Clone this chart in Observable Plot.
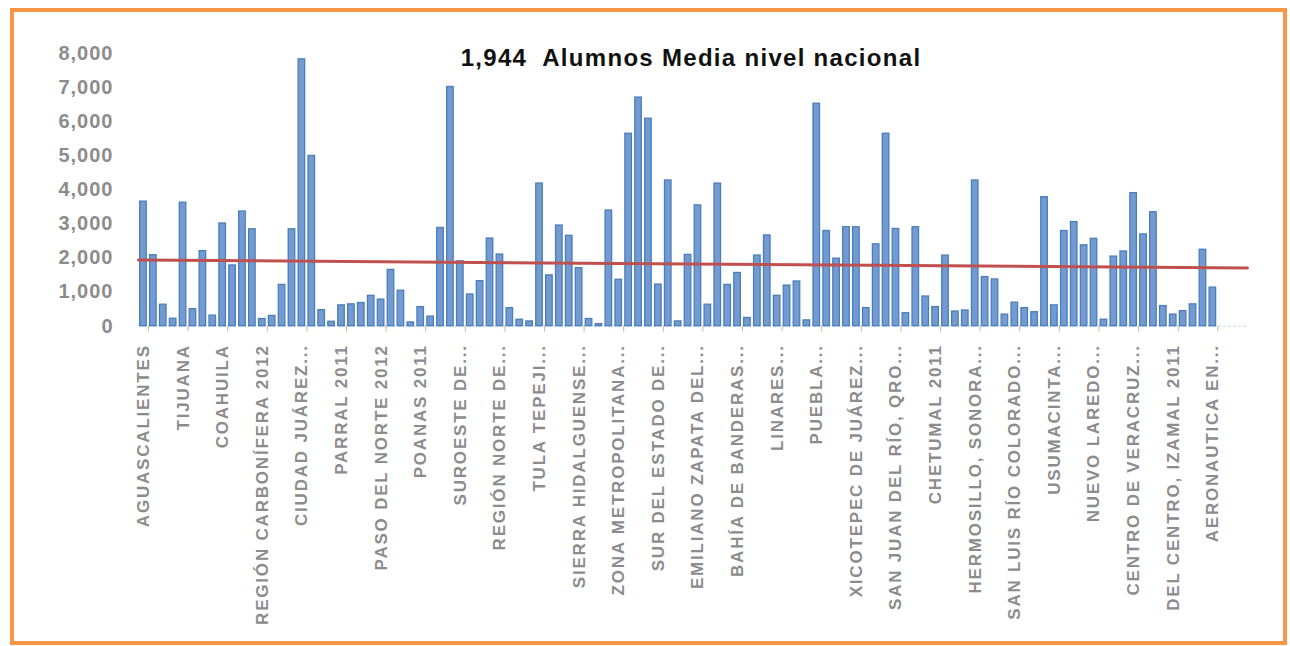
<!DOCTYPE html>
<html><head><meta charset="utf-8">
<script src="https://cdn.jsdelivr.net/npm/d3@7"></script>
<script src="https://cdn.jsdelivr.net/npm/@observablehq/plot@0.6"></script>
<style>
body{margin:0;background:#fff;}
#wrap{position:relative;width:1290px;height:646px;overflow:hidden;background:#fff}
#frame{position:absolute;left:10px;top:8px;width:1277px;height:637px;border:4px solid #f79646;box-sizing:border-box;pointer-events:none}
#title{position:absolute;left:691px;top:44px;transform:translateX(-50%);white-space:pre;font-family:"Liberation Sans",sans-serif;font-weight:bold;font-size:24px;letter-spacing:1.3px;color:#111;line-height:28px}
#chart{position:absolute;left:0;top:0}
#chart svg g[aria-label="x-axis tick label"] text{letter-spacing:1.8px}
#chart svg g[aria-label="y-axis tick label"] text{letter-spacing:1px}
</style></head>
<body>
<div id="wrap">
  <div id="chart"></div>
  <div id="title">1,944  Alumnos Media nivel nacional</div>
  <div id="frame"></div>
</div>
<script>
const labels = ["AGUASCALIENTES","TIJUANA","COAHUILA","REGIÓN CARBONÍFERA 2012","CIUDAD JUÁREZ...","PARRAL 2011","PASO DEL NORTE 2012","POANAS 2011","SUROESTE DE...","REGIÓN NORTE DE...","TULA TEPEJI...","SIERRA HIDALGUENSE...","ZONA METROPOLITANA...","SUR DEL ESTADO DE...","EMILIANO ZAPATA DEL...","BAHÍA DE BANDERAS...","LINARES...","PUEBLA...","XICOTEPEC DE JUÁREZ...","SAN JUAN DEL RÍO, QRO...","CHETUMAL 2011","HERMOSILLO, SONORA...","SAN LUIS RÍO COLORADO...","USUMACINTA...","NUEVO LAREDO...","CENTRO DE VERACRUZ...","DEL CENTRO, IZAMAL 2011","AERONAUTICA EN..."];
const values = [3650,2080,630,220,3620,500,2200,310,3010,1780,3360,2840,210,300,1210,2840,7820,4990,470,130,
610,640,680,890,780,1650,1040,110,560,280,2880,7010,1900,930,1320,2570,2100,530,190,140,
4180,1490,2950,2650,1700,210,60,3390,1360,5640,6700,6080,1220,4270,140,2090,3540,630,4180,1210,
1560,240,2070,2660,890,1190,1310,170,6520,2790,1980,2900,2900,530,2400,5640,2850,380,2900,870,
560,2070,430,460,4270,1440,1370,340,690,530,410,3780,610,2790,3050,2370,2560,190,2040,2190,
3900,2690,3340,590,340,440,640,2240,1130];
const yTicks = [0,1000,2000,3000,4000,5000,6000,7000,8000];
const meanStart = 1940, meanEnd = 1705;
const nSlots = 112;

const data = values.map((v, i) => ({i, v}));
const mean = [{x: -0.5, y: meanStart}, {x: nSlots - 0.5, y: meanEnd}];
const labelIdx = labels.map((_, k) => k * 4);
const boundaries = labels.map((_, k) => k * 4 + 0.5);

const chart = Plot.plot({
  width: 1290, height: 646,
  marginLeft: 138, marginRight: 43, marginTop: 52.7, marginBottom: 320.3,
  style: {fontFamily: "Liberation Sans, sans-serif", background: "transparent", overflow: "visible", color: "#8c8c8c"},
  x: {type: "linear", domain: [-0.5, nSlots - 0.5], axis: null},
  y: {domain: [0, 8000], axis: null},
  marks: [
    Plot.ruleY([0], {stroke: "#c9d8ec", strokeDasharray: "3,2", x1: -0.5, x2: nSlots - 0.5}),
    Plot.axisX({ticks: boundaries, tickFormat: () => "", tickSize: 6, stroke: "#d9b48f", strokeWidth: 1, label: null}),
    Plot.rectY(data, {x1: d => d.i - 0.33, x2: d => d.i + 0.33, y: "v", fill: "#739bd2", stroke: "#4a7ebb", strokeWidth: 1.3}),
    Plot.line(mean, {x: "x", y: "y", stroke: "#c0504d", strokeWidth: 3}),
    Plot.axisY({ticks: yTicks, tickFormat: d3.format(","), tickSize: 0, tickPadding: 25, fontSize: 20, fontWeight: "bold", label: null}),
    Plot.axisX({ticks: labelIdx, tickFormat: i => labels[i / 4], tickRotate: -90, tickSize: 0, tickPadding: 18, fontSize: 17, fontWeight: "bold", label: null})
  ]
});
document.getElementById("chart").appendChild(chart);
</script>
</body></html>
